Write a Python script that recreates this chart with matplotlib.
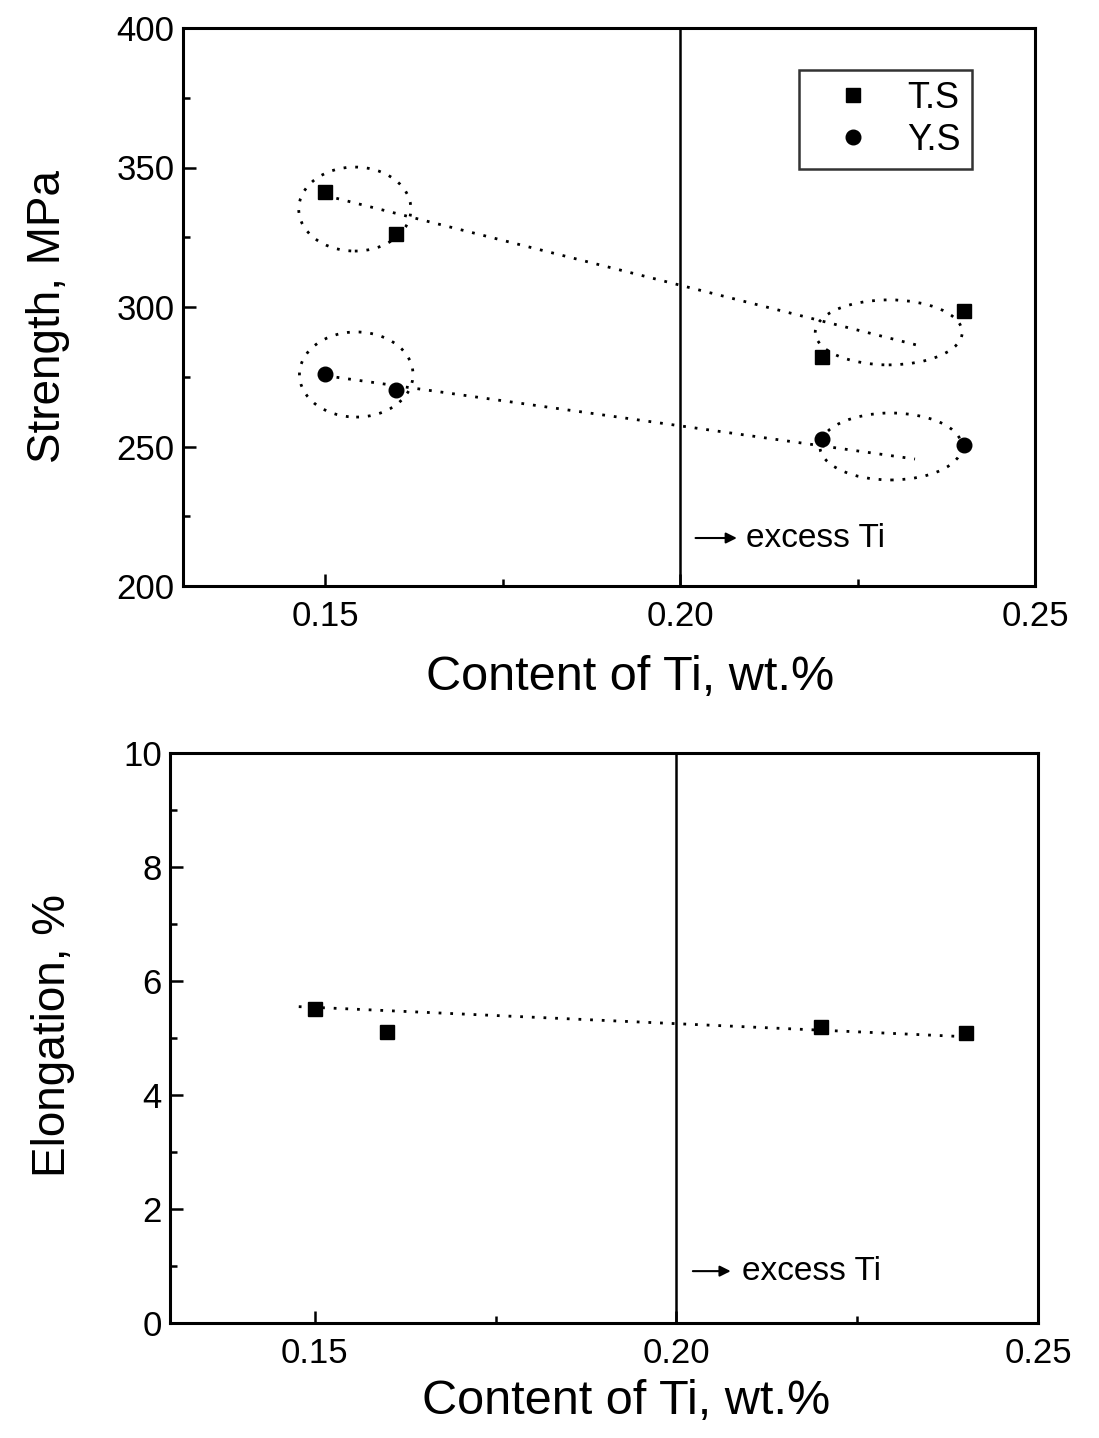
import numpy as np
import matplotlib
matplotlib.use('Agg')
import matplotlib.pyplot as plt
from matplotlib.patches import Ellipse
from matplotlib.ticker import MultipleLocator

plt.rcParams['font.family'] = ['Liberation Sans', 'DejaVu Sans']

# data
ti = [0.15, 0.16, 0.22, 0.24]
ts = [341.3, 326.2, 282.0, 298.6]
ys = [276.0, 270.2, 252.6, 250.5]
elong = [5.51, 5.11, 5.20, 5.09]

# hand drawn trend lines (end points)
ts_trend_x = [0.15, 0.2333]
ts_trend_y = [340.0, 286.4]
ys_trend_x = [0.15, 0.2331]
ys_trend_y = [275.4, 245.5]
el_trend_x = [0.1478, 0.2387]
el_trend_y = [5.55, 5.03]

# dotted ellipses: (x centre, y centre, width, height)
ellipses = [(0.1542, 335.1, 0.0158, 30.1),
            (0.1544, 275.8, 0.0160, 30.5),
            (0.2294, 290.9, 0.0207, 23.3),
            (0.2297, 250.0, 0.0200, 24.0)]

dot = (0, (1, 3.2))

fig = plt.figure(figsize=(10.99, 14.38), dpi=100)
ax1 = fig.add_axes([183/1099, 1-586/1438, (1035-183)/1099, (586-28)/1438])
ax2 = fig.add_axes([170/1099, 1-1323/1438, (1038-170)/1099, (1323-753)/1438])


def style(ax):
    for s in ax.spines.values():
        s.set_linewidth(2.2)
    ax.tick_params(which='both', direction='in', top=False, right=False,
                   labelsize=25, width=1.8)
    ax.tick_params(which='major', length=9)
    ax.tick_params(which='minor', length=5)
    ax.tick_params(axis='y', pad=6)
    ax.tick_params(axis='x', pad=10)
    ax.set_xlim(0.13, 0.25)
    ax.set_xticks([0.15, 0.20, 0.25])
    ax.set_xticklabels(['0.15', '0.20', '0.25'])
    ax.xaxis.set_minor_locator(MultipleLocator(0.025))
    ax.axvline(0.20, color='black', lw=1.8)


# top panel: strength
style(ax1)
ax1.set_ylim(200, 400)
ax1.yaxis.set_major_locator(MultipleLocator(50))
ax1.yaxis.set_minor_locator(MultipleLocator(25))
ax1.plot(ti, ts, 's', color='black', ms=10, label='T.S')
ax1.plot(ti, ys, 'o', color='black', ms=10.5, label='Y.S')
ax1.plot(ts_trend_x, ts_trend_y, color='black', lw=2.0, linestyle=dot)
ax1.plot(ys_trend_x, ys_trend_y, color='black', lw=2.0, linestyle=dot)
for cx, cy, w, h in ellipses:
    ax1.add_patch(Ellipse((cx, cy), w, h, fill=False, edgecolor='black',
                          lw=2.0, linestyle=dot))
ax1.annotate('', xy=(0.2084, 217.2), xytext=(0.2018, 217.2),
             arrowprops=dict(arrowstyle='-|>', color='black', lw=1.5,
                             mutation_scale=16))
ax1.text(0.2093, 217.2, 'excess Ti', fontsize=24, va='center', ha='left')
ax1.set_ylabel('Strength, MPa', fontsize=33)
ax1.yaxis.set_label_coords(-0.133, 0.483)
ax1.set_xlabel('Content of Ti, wt.%', fontsize=35)
ax1.xaxis.set_label_coords(0.525, -0.124)
leg = ax1.legend(loc='upper right', bbox_to_anchor=(0.926, 0.925),
                 borderaxespad=0, fontsize=26, frameon=True, fancybox=False,
                 edgecolor='black', handletextpad=0.3, borderpad=0.3,
                 labelspacing=0.2, handlelength=2.4)
leg.get_frame().set_linewidth(1.8)

# bottom panel: elongation
style(ax2)
ax2.set_ylim(0, 10)
ax2.yaxis.set_major_locator(MultipleLocator(2))
ax2.yaxis.set_minor_locator(MultipleLocator(1))
ax2.plot(ti, elong, 's', color='black', ms=10)
ax2.plot(el_trend_x, el_trend_y, color='black', lw=2.0, linestyle=dot)
ax2.annotate('', xy=(0.2079, 0.91), xytext=(0.2019, 0.91),
             arrowprops=dict(arrowstyle='-|>', color='black', lw=1.5,
                             mutation_scale=16))
ax2.text(0.2091, 0.91, 'excess Ti', fontsize=24, va='center', ha='left')
ax2.set_ylabel('Elongation, %', fontsize=33)
ax2.yaxis.set_label_coords(-0.109, 0.505)
ax2.set_xlabel('Content of Ti, wt.%', fontsize=35)
ax2.xaxis.set_label_coords(0.525, -0.098)

fig.savefig('out.png', dpi=100)
